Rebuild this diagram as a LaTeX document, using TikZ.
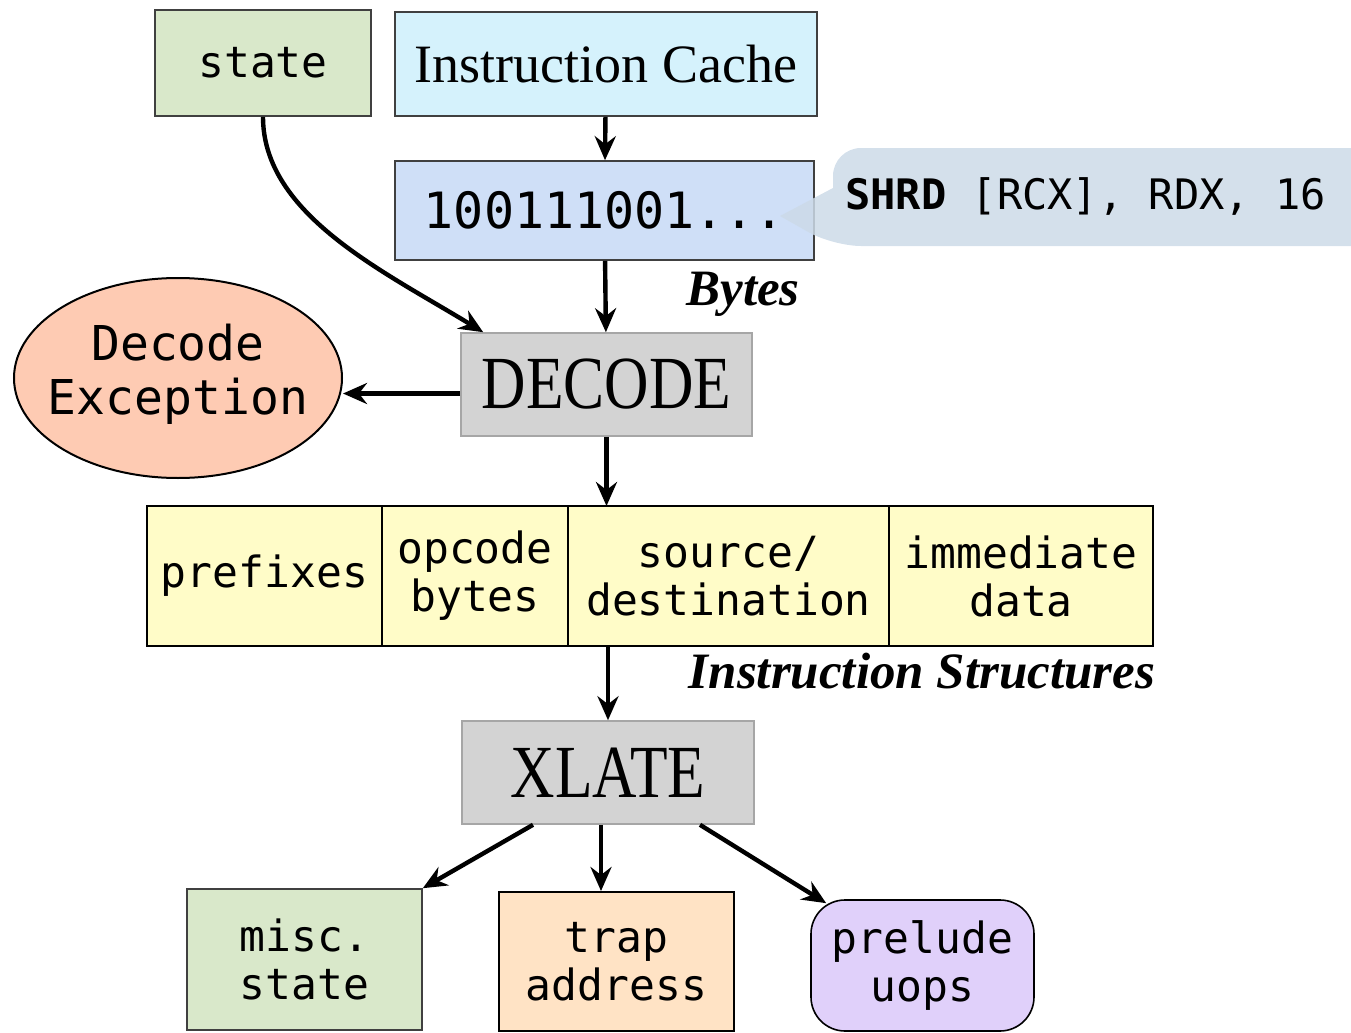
\documentclass[tikz,border=0pt]{standalone}
\usepackage{fontspec}
\setmainfont{Liberation Serif}
\setmonofont{DejaVu Sans Mono}
\newfontfamily\narrowserif[FakeStretch=0.82]{Liberation Serif}
\usetikzlibrary{arrows.meta,shapes.geometric,positioning}

\definecolor{stategreen}{HTML}{D9E8CA}
\definecolor{cachecyan}{HTML}{D5F2FC}
\definecolor{bytesblue}{HTML}{CFDFF7}
\definecolor{noteblue}{HTML}{CCDAE8}
\definecolor{excsalmon}{HTML}{FECBB3}
\definecolor{stagegray}{HTML}{D3D3D3}
\definecolor{fieldyellow}{HTML}{FFFCC8}
\definecolor{trappeach}{HTML}{FFE3C5}
\definecolor{uoplilac}{HTML}{E0D0FA}

\tikzset{
  box/.style={draw=black!75, line width=0.8pt, inner sep=0pt, align=center,
    font=\ttfamily\fontsize{21.5}{24}\selectfont},
  stage/.style={box, draw=black!35, fill=stagegray,
    font=\narrowserif\fontsize{37.5}{40}\selectfont},
  field/.style={box, draw=black, line width=1pt, outer sep=0pt, fill=fieldyellow,
    minimum height=70pt},
  flow/.style={-{Stealth[length=12pt,width=10.5pt,inset=4pt]}, line width=2.2pt},
  tag/.style={font=\bfseries\itshape\fontsize{25.5}{28}\selectfont, inner sep=0pt},
}

\begin{document}
\begin{tikzpicture}[x=0.5pt, y=-0.5pt]
  \useasboundingbox (0,0) rectangle (1351,1033);

  % fetch side
  \node[box, fill=stategreen, minimum width=108pt, minimum height=53pt] (state) at (263,63) {state};
  \node[box, fill=cachecyan, minimum width=211pt, minimum height=52pt,
        font=\fontsize{27}{30}\selectfont] (icache) at (606,64) {Instruction Cache};
  \node[box, fill=bytesblue, minimum width=209.5pt, minimum height=49.5pt,
        font=\ttfamily\fontsize{25}{28}\selectfont] (bytes) at (604.5,210.5) {100111001...};
  \node[tag, anchor=base] (bytestag) at (743,305) {Bytes};

  % disassembly note
  \fill[noteblue, fill opacity=0.85] (780,216) -- (833,188) [rounded corners=14pt] -- (833,148)
    -- (1400,148) -- (1400,246) -- (833,246) [sharp corners] -- cycle;
  \node[anchor=base west, inner sep=0pt, font=\ttfamily\fontsize{21}{24}\selectfont]
    (asm) at (845,209) {\textbf{SHRD} [RCX], RDX, 16};

  % decode stage
  \node[stage, minimum width=145.5pt, minimum height=51.5pt] (decode) at (606.5,384.5) {DECODE};
  \node[ellipse, draw=black, line width=1pt, fill=excsalmon, inner xsep=-10pt, inner ysep=0pt,
        minimum width=164pt, minimum height=100pt] (exc) at (178,378) {};
  \node[align=center, inner sep=0pt, font=\ttfamily\fontsize{24}{27}\selectfont]
    (exctext) at ([yshift=2pt]exc.center) {Decode\\Exception};

  % instruction fields
  \node[field, minimum width=117.5pt] (prefixes) at (264.5,576) {prefixes};
  \node[field, minimum width=93pt, right=0pt of prefixes] (opcode) {opcode\\bytes};
  \node[field, minimum width=160.5pt, right=0pt of opcode] (source) {source/\\destination};
  \node[field, minimum width=132pt, right=0pt of source] (imm) {immediate\\data};
  \node[tag, anchor=base] (structtag) at (922,688) {Instruction Structures};

  % translate stage
  \node[stage, minimum width=146pt, minimum height=51.5pt] (xlate) at (608,772.5) {XLATE};
  \node[box, fill=stategreen, minimum width=117.5pt, minimum height=70.5pt] (misc) at (304.5,959.5) {misc.\\state};
  \node[box, draw=black, line width=1pt, fill=trappeach, minimum width=117.5pt, minimum height=69.5pt] (trap) at (616.5,961.5) {trap\\address};
  \node[box, draw=black, fill=uoplilac, rounded corners=17pt, minimum width=111.5pt, minimum height=65.5pt] (prelude) at (922.5,965.5) {prelude\\uops};

  % connectors
  \draw[flow] (icache) -- (bytes);
  \draw[flow] (bytes) -- (decode);
  \draw[flow] (state.south) .. controls (263,215) and (385,272) .. ([xshift=11.5pt]decode.north west);
  \draw[flow] ([yshift=-4.5pt]decode.west) -- ([yshift=-4.5pt]decode.west -| exc.east);
  \draw[flow] (decode.south) -- (decode.south |- source.north);
  \draw[flow] (xlate.north |- source.south) -- (xlate.north);
  \draw[flow] ([xshift=-37.5pt]xlate.south) -- (misc.north east);
  \draw[flow] ([xshift=-3.5pt]xlate.south) -- ([xshift=-3.5pt]xlate.south |- trap.north);
  \draw[flow] ([xshift=46pt]xlate.south) -- ([shift={(8pt,-2pt)}]prelude.north west);
\end{tikzpicture}
\end{document}
